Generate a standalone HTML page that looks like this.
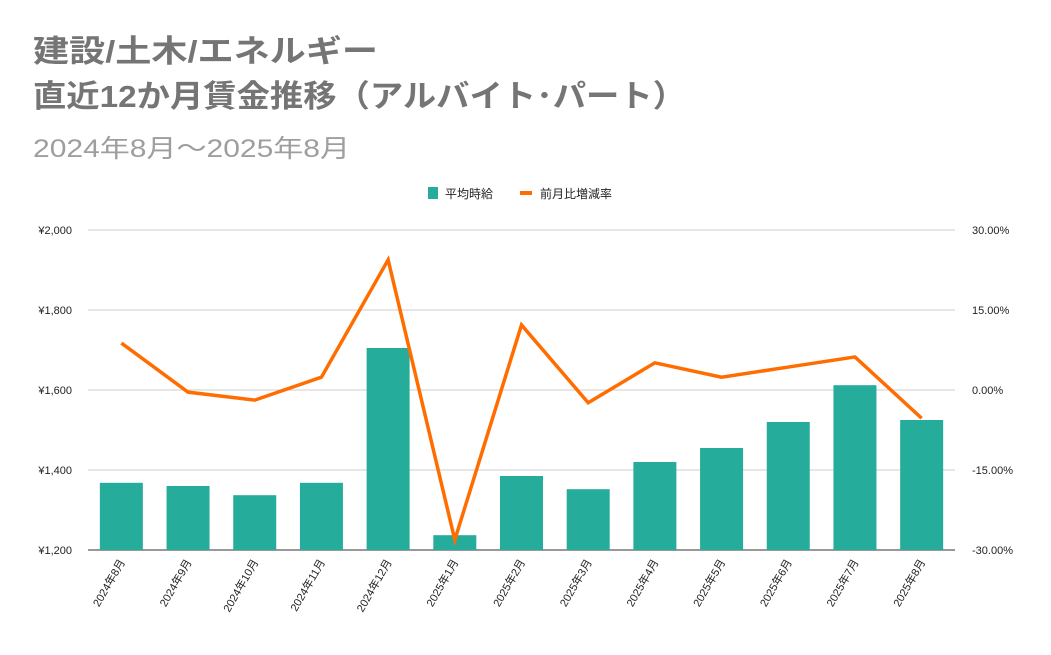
<!DOCTYPE html>
<html><head><meta charset="utf-8"><style>
body{margin:0;background:#fff;width:1051px;height:650px;overflow:hidden;font-family:"Liberation Sans","Noto Sans CJK JP",sans-serif;}
</style></head><body>
<svg width="1051" height="650" xmlns="http://www.w3.org/2000/svg" font-family="Liberation Sans, Noto Sans CJK JP, sans-serif">
<text x="33" y="62" font-size="31" font-weight="bold" fill="#757575" textLength="345" lengthAdjust="spacingAndGlyphs">建設/土木/エネルギー</text>
<text x="33" y="107" font-size="31" font-weight="bold" fill="#757575" textLength="653" lengthAdjust="spacingAndGlyphs">直近12か月賃金推移（アルバイト･パート）</text>
<text x="33" y="157" font-size="25" fill="#9e9e9e" textLength="317" lengthAdjust="spacingAndGlyphs">2024年8月～2025年8月</text>
<g>
<rect x="428" y="187" width="10" height="12" fill="#26ac9b"/>
<text x="445" y="198" font-size="12" fill="#222">平均時給</text>
<rect x="520" y="191" width="12" height="4" fill="#ff6d01"/>
<text x="540" y="198" font-size="12" fill="#222">前月比増減率</text>
</g>
<g id="grid"></g><g id="bars"></g><g id="line"></g><g id="labels"></g>
</svg>
<script>
const categories=["2024年8月","2024年9月","2024年10月","2024年11月","2024年12月","2025年1月","2025年2月","2025年3月","2025年4月","2025年5月","2025年6月","2025年7月","2025年8月"];
const wages=[1368,1360,1337,1368,1705,1237,1385,1352,1420,1455,1520,1612,1525];
const changes=[8.8,-0.4,-1.9,2.4,24.4,-28.1,12.2,-2.4,5.1,2.4,4.3,6.2,-5.3];
const leftTicks=[1200,1400,1600,1800,2000];
const leftTickLabels=["¥1,200","¥1,400","¥1,600","¥1,800","¥2,000"];
const rightTicks=[-30,-15,0,15,30];
const rightTickLabels=["-30.00%","-15.00%","0.00%","15.00%","30.00%"];
const NS="http://www.w3.org/2000/svg";
const X0=88,X1=955,Y0=550,Y1=230;
const band=(X1-X0)/categories.length;
const xc=i=>X0+band*(i+0.5);
const yL=v=>Y0-(v-1200)/800*(Y0-Y1);
const yR=v=>Y0-(v+30)/60*(Y0-Y1);
function mk(t,a,p){const e=document.createElementNS(NS,t);for(const k in a)e.setAttribute(k,a[k]);p.appendChild(e);return e;}
const g=document.getElementById('grid'),b=document.getElementById('bars'),l=document.getElementById('line'),lb=document.getElementById('labels');
leftTicks.forEach((v,i)=>{
 const ln=mk('line',{x1:X0,x2:X1,y1:yL(v),y2:yL(v),stroke:i==0?'#333':'#ccc','stroke-width':1},g);
 
 
 const t=mk('text',{x:X0-16,y:yL(v)+4,'font-size':11,fill:'#222','text-anchor':'end'},lb);t.textContent=leftTickLabels[i];
 
 
});
rightTicks.forEach((v,i)=>{
 const t=mk('text',{x:972,y:yR(v)+4,'font-size':11,fill:'#222'},lb);t.textContent=rightTickLabels[i];
 
 
});
const bw=43;
wages.forEach((v,i)=>{
 const r=mk('rect',{x:xc(i)-bw/2,y:yL(v),width:bw,height:Y0-yL(v),fill:'#26ac9b'},b);
 
 
 const t=mk('text',{x:0,y:0,'font-size':11,fill:'#222','text-anchor':'end',transform:`translate(${xc(i)+4},${Y0+12}) rotate(-60)`},lb);t.textContent=categories[i];
 
 
});
const p=mk('polyline',{points:changes.map((v,i)=>xc(i)+','+yR(v)).join(' '),fill:'none',stroke:'#ff6d01','stroke-width':3.5,'stroke-linejoin':'miter'},l);


</script>
</body></html>
